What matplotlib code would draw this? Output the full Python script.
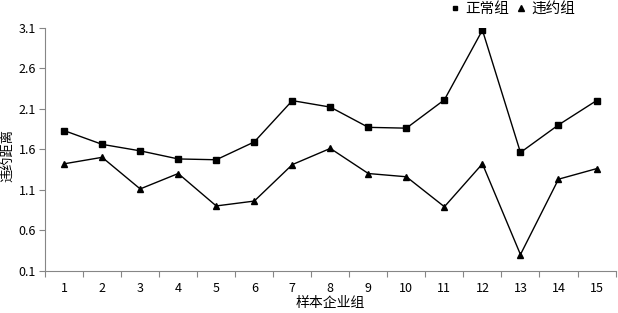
import matplotlib
matplotlib.use("Agg")
import matplotlib.pyplot as plt
from matplotlib.ticker import FixedLocator

plt.rcParams['font.family'] = ['Noto Sans CJK SC', 'DejaVu Sans']

groups = list(range(1, 16))
normal = [1.83, 1.66, 1.58, 1.48, 1.47, 1.69, 2.20, 2.12, 1.87, 1.86, 2.21, 3.07, 1.56, 1.90, 2.20]
default = [1.42, 1.50, 1.11, 1.30, 0.90, 0.96, 1.41, 1.61, 1.30, 1.26, 0.89, 1.42, 0.30, 1.23, 1.36]
yticks = [0.1, 0.6, 1.1, 1.6, 2.1, 2.6, 3.1]

fig = plt.figure(figsize=(6.18, 3.13), dpi=100)
ax = fig.add_axes([0.073, 0.135, 0.923, 0.7765])

ax.plot(groups, normal, color='black', lw=1.0, marker='s', ms=4.3, label='正常组')
ax.plot(groups, default, color='black', lw=1.0, marker='^', ms=4.6, label='违约组')

ax.set_xlim(0.5, 15.5)
ax.set_ylim(0.1, 3.1)
ax.set_yticks(yticks)
ax.set_yticklabels([f"{v:.1f}" for v in yticks])
ax.set_xticks(groups)
ax.set_xticklabels([str(g) for g in groups])
ax.xaxis.set_minor_locator(FixedLocator([g + 0.5 for g in range(0, 16)]))
ax.tick_params(axis='x', which='major', length=0, pad=8, labelsize=9)
ax.tick_params(axis='x', which='minor', length=4, color='#868686', width=0.8)
ax.tick_params(axis='y', which='major', length=4, color='#868686', width=0.8, labelsize=9, pad=2.5)

for s in ['top', 'right']:
    ax.spines[s].set_visible(False)
for s in ['left', 'bottom']:
    ax.spines[s].set_color('#868686')
    ax.spines[s].set_linewidth(0.8)

ax.set_xlabel('样本企业组', fontsize=10, labelpad=1)
ax.set_ylabel('违约距离', fontsize=9.5)
ax.yaxis.set_label_coords(-0.054, 0.476)

fig.legend(loc='center', bbox_to_anchor=(512/618, 1 - 9/313), ncol=2, frameon=False,
           fontsize=10.5, handlelength=0.8, handletextpad=0.3, columnspacing=0.4,
           markerscale=0.8)
for h in fig.legends[0].get_lines():
    h.set_linestyle('none')

fig.savefig('out.png', dpi=100)
